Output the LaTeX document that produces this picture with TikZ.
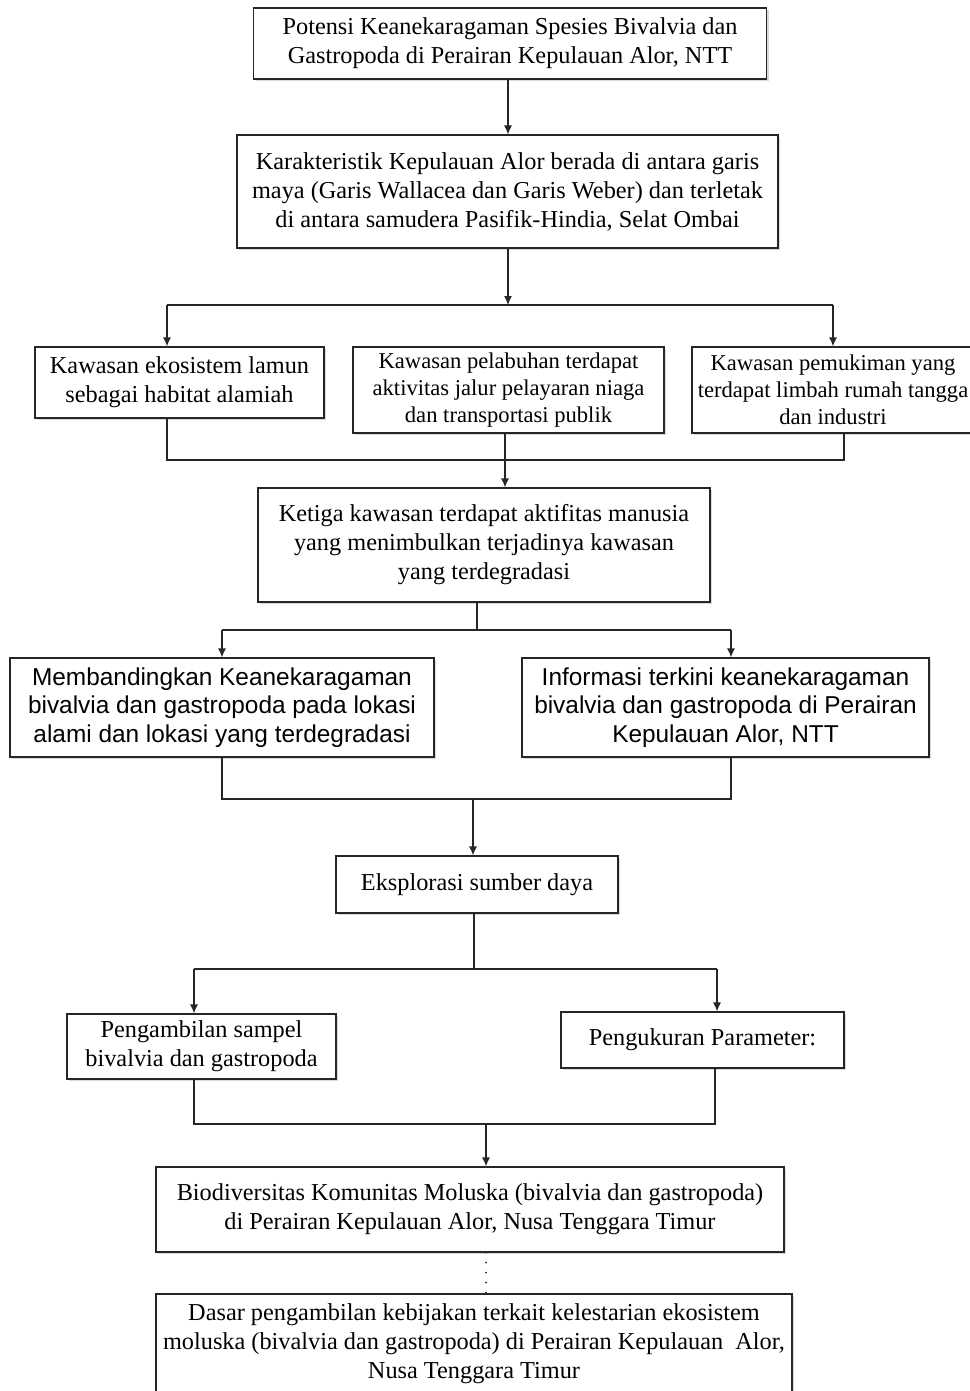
\documentclass[tikz,border=0pt]{standalone}
\usepackage{fontspec}
\setmainfont{Liberation Serif}
\setsansfont{Liberation Sans}
\usetikzlibrary{arrows.meta,shadows}
\tikzset{
  kotak/.style={draw=black!85,line width=1.2pt,fill=white,inner sep=0pt,align=center,
    drop shadow={shadow xshift=2pt,shadow yshift=-2pt,opacity=.3},
    font=\fontsize{24.3}{29}\selectfont},
  kotakkecil/.style={kotak,font=\fontsize{22.6}{27}\selectfont},
  kotaksans/.style={kotak,font=\sffamily\fontsize{24.4}{28.3}\selectfont},
  garis/.style={draw=black!85,line width=1.2pt},
  panah/.style={garis,-{Latex[length=9pt,width=8pt]}}
}
\begin{document}
\begin{tikzpicture}[x=1pt,y=-1pt]
\useasboundingbox (0,0) rectangle (969,1391);
\node[kotak,minimum width=513pt,minimum height=71pt] (potensi) at (510,43.5)
  {Potensi Keanekaragaman Spesies Bivalvia dan\\Gastropoda di Perairan Kepulauan Alor, NTT};
\node[kotak,minimum width=541pt,minimum height=113pt] (karakter) at (507.5,191.5)
  {Karakteristik Kepulauan Alor berada di antara garis\\maya (Garis Wallacea dan Garis Weber) dan terletak\\di antara samudera Pasifik-Hindia, Selat Ombai};
\node[kotak,minimum width=289pt,minimum height=71pt] (lamun) at (179.5,382.5)
  {Kawasan ekosistem lamun\\sebagai habitat alamiah};
\node[kotakkecil,minimum width=311pt,minimum height=86pt] (pelabuhan) at (508.5,390)
  {Kawasan pelabuhan terdapat\\aktivitas jalur pelayaran niaga\\dan transportasi publik};
\node[kotakkecil,minimum width=282pt,minimum height=86pt] (pemukiman) at (833,390)
  {Kawasan pemukiman yang\\terdapat limbah rumah tangga\\dan industri};
\node[kotak,minimum width=452pt,minimum height=114pt] (ketiga) at (484,545)
  {Ketiga kawasan terdapat aktifitas manusia\\yang menimbulkan terjadinya kawasan\\yang terdegradasi};
\node[kotaksans,minimum width=424pt,minimum height=99pt] (banding) at (222,707.5)
  {Membandingkan Keanekaragaman\\bivalvia dan gastropoda pada lokasi\\alami dan lokasi yang terdegradasi};
\node[kotaksans,minimum width=407pt,minimum height=99pt] (info) at (725.5,707.5)
  {Informasi terkini keanekaragaman\\bivalvia dan gastropoda di Perairan\\Kepulauan Alor, NTT};
\node[kotak,minimum width=282pt,minimum height=57pt] (eksplorasi) at (477,884.5)
  {Eksplorasi sumber daya};
\node[kotak,minimum width=269pt,minimum height=65pt] (sampel) at (201.5,1046.5)
  {Pengambilan sampel\\bivalvia dan gastropoda};
\node[kotak,minimum width=283pt,minimum height=56pt] (ukur) at (702.5,1040)
  {Pengukuran Parameter:};
\node[kotak,minimum width=628pt,minimum height=85pt] (biodiv) at (470,1209.5)
  {Biodiversitas Komunitas Moluska (bivalvia dan gastropoda)\\di Perairan Kepulauan Alor, Nusa Tenggara Timur};
\node[kotak,minimum width=636pt,minimum height=99pt] (dasar) at (474,1343.5)
  {Dasar pengambilan kebijakan terkait kelestarian ekosistem\\moluska (bivalvia dan gastropoda) di Perairan Kepulauan\ \ Alor,\\Nusa Tenggara Timur};
\coordinate (cab1) at (508,305);
\coordinate (kiri1) at (167,305);
\coordinate (kanan1) at (833,305);
\coordinate (kiri2) at (167,460);
\coordinate (kanan2) at (844,460);
\coordinate (cab3) at (477,630);
\coordinate (kiri3) at (222,630);
\coordinate (kanan3) at (731,630);
\coordinate (cab4) at (473,799);
\coordinate (kiri4) at (222,799);
\coordinate (kanan4) at (731,799);
\coordinate (cab5) at (474,969);
\coordinate (kiri5) at (194,969);
\coordinate (kanan5) at (717,969);
\coordinate (cab6) at (486,1124);
\coordinate (kiri6) at (194,1124);
\coordinate (kanan6) at (715,1124);
\draw[panah] (potensi.south -| cab1) -- (karakter.north -| cab1);
\draw[panah] (karakter.south -| cab1) -- (cab1);
\draw[garis] (kiri1) -- (kanan1);
\draw[panah] (kiri1) -- (kiri1 |- lamun.north);
\draw[panah] (kanan1) -- (kanan1 |- pemukiman.north);
\draw[garis] (kiri2 |- lamun.south) -- (kiri2) -- (kanan2) -- (kanan2 |- pemukiman.south);
\draw[panah] (pelabuhan.south -| 505,0) -- (ketiga.north -| 505,0);
\draw[garis] (ketiga.south -| cab3) -- (cab3);
\draw[garis] (kiri3) -- (kanan3);
\draw[panah] (kiri3) -- (banding.north);
\draw[panah] (kanan3) -- (kanan3 |- info.north);
\draw[garis] (banding.south) -- (kiri4) -- (kanan4) -- (kanan4 |- info.south);
\draw[panah] (cab4) -- (cab4 |- eksplorasi.north);
\draw[garis] (eksplorasi.south -| cab5) -- (cab5);
\draw[garis] (kiri5) -- (kanan5);
\draw[panah] (kiri5) -- (kiri5 |- sampel.north);
\draw[panah] (kanan5) -- (kanan5 |- ukur.north);
\draw[garis] (kiri6 |- sampel.south) -- (kiri6) -- (kanan6) -- (kanan6 |- ukur.south);
\draw[panah] (cab6) -- (cab6 |- biodiv.north);
\draw[garis,line width=2pt,line cap=round,dash pattern=on 0pt off 10pt] (biodiv.south -| cab6) -- (dasar.north -| cab6);
\end{tikzpicture}
\end{document}
